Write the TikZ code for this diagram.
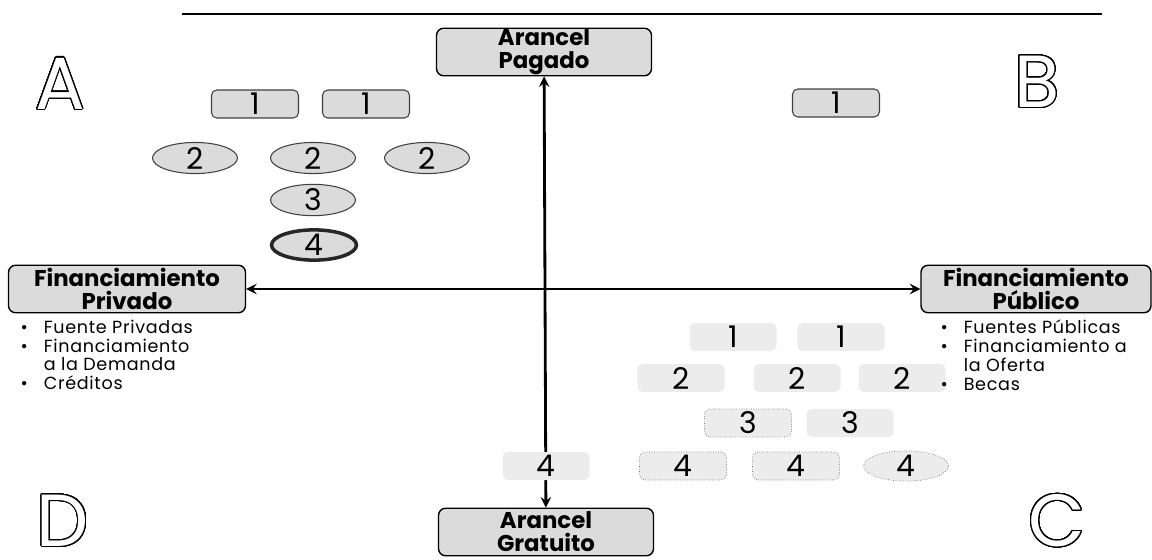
\documentclass[tikz,border=0pt]{standalone}
\usepackage{fontspec}
\setmainfont{Poppins}
\usepackage{contour}
\usetikzlibrary{shapes.geometric, arrows.meta, positioning}
\contourlength{0.6pt}
\contournumber{40}

\begin{document}
\begin{tikzpicture}[>=stealth, x=0.02cm, y=-0.02cm, thick]
\tikzset{axisbox/.style={draw, rounded corners=4pt, fill=gray!28, font=\fontsize{13}{13}\selectfont\bfseries, align=center, inner sep=0pt, minimum width=4.3cm, minimum height=0.95cm}, numbox/.style={draw=black!75, semithick, rounded corners=3pt, fill=gray!28, minimum width=1.74cm, minimum height=0.56cm, inner sep=0pt, font=\fontsize{17}{17}\selectfont}, numell/.style={numbox, ellipse, minimum width=1.7cm, minimum height=0.54cm}, faint/.style={draw=none, fill=gray!15}, faintline/.style={draw=black!55, thin, densely dotted}, letter/.style={text=white, font=\fontsize{42}{42}\selectfont, inner sep=0pt}, list/.style={anchor=north west, align=left, font=\fontsize{10}{10.6}\selectfont\addfontfeatures{LetterSpace=4}, inner sep=0pt}}
\useasboundingbox (0,0) rectangle (1152,559);
\draw[line width=1pt] (182,14) -- (1102,14);
\node[axisbox] (pagado) at (544,52) {Arancel\\Pagado};
\node[axisbox] (gratuito) at (546,532) {Arancel\\Gratuito};
\node[axisbox, minimum width=4.74cm] (privado) at (127,289) {Financiamiento\\Privado};
\node[axisbox, minimum width=4.6cm] (publico) at (1036,289) {Financiamiento\\Público};
\node[letter] (qa) at (60,84) {\contour{black}{A}};
\node[letter] (qb) at (1037,82) {\contour{black}{B}};
\node[letter] (qc) at (1057,521) {\contour{black}{C}};
\node[letter] (qd) at (63,521) {\contour{black}{D}};
\node[numbox] (a1) at (255,104) {1}; \node[numbox] (a2) at (366,104) {1};
\node[numell] (a3) at (195,158) {2}; \node[numell] (a4) at (313,158) {2}; \node[numell] (a5) at (427,158) {2};
\node[numell] (a6) at (313,200) {3};
\node[numell, line width=2pt, draw=black!85] (a7) at (314,245) {4};
\node[numbox] (b1) at (836,103) {1};
\draw[<->, line width=1.6pt] (pagado) -- (gratuito);
\draw[<->, line width=1.6pt] (privado) -- (publico);
\node[numbox, faint] (c1) at (733,337) {1}; \node[numbox, faint] (c2) at (841,337) {1};
\node[numbox, faint] (c3) at (681,378) {2}; \node[numbox, faint] (c4) at (797,378) {2}; \node[numbox, faint] (c5) at (902,378) {2};
\node[numbox, faint, faintline] (c6) at (748,423) {3}; \node[numbox, faint] (c7) at (850,423) {3};
\node[numbox, faint] (c8) at (546,466) {4};
\node[numbox, faint, faintline] (c9) at (683,466) {4}; \node[numbox, faint, faintline] (c10) at (796,466) {4}; \node[numell, faint, faintline] (c11) at (906,466) {4};
\node[list] (privlist) at (20,319) {\begin{tabular}{@{}l@{\hspace{9pt}}l@{}}\textbullet & Fuente Privadas\\ \textbullet & Financiamiento\\ & a la Demanda\\ \textbullet & Créditos\end{tabular}};
\node[list] (publist) at (940,319) {\begin{tabular}{@{}l@{\hspace{9pt}}l@{}}\textbullet & Fuentes Públicas\\ \textbullet & Financiamiento a\\ & la Oferta\\ \textbullet & Becas\end{tabular}};
\end{tikzpicture}
\end{document}
